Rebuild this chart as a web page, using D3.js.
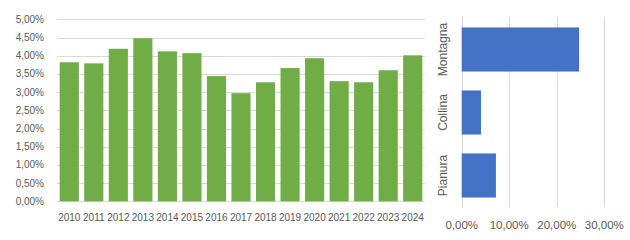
<!DOCTYPE html>
<html><head><meta charset="utf-8">
<script src="https://cdn.jsdelivr.net/npm/d3@7"></script>
<style>body{margin:0;background:#fff}svg{display:block}text{font-family:"Liberation Sans",Arial,sans-serif;fill:#595959}</style>
</head><body>
<svg id="c" width="630" height="240"></svg>
<script>
const years = ["2010","2011","2012","2013","2014","2015","2016","2017","2018","2019","2020","2021","2022","2023","2024"];
const rates = [3.82,3.79,4.19,4.48,4.12,4.07,3.44,2.97,3.27,3.66,3.93,3.30,3.27,3.60,4.01];
const yTicks = [0,0.5,1,1.5,2,2.5,3,3.5,4,4.5,5];
const zones = ["Montagna","Collina","Pianura"];
const zoneValues = [24.7,4.06,7.2];
const xTicks = [0,10,20,30];

const svg = d3.select("#c");
const fmt = v => d3.format(".2f")(v).replace(".", ",") + "%";

// Left chart
const x1 = d3.scaleBand().domain(years).range([57,425]).paddingInner(0.22).paddingOuter(0.11);
const y1 = d3.scaleLinear().domain([0,5]).range([201.3,19.3]);
const g1 = svg.append("g");
g1.selectAll("line.g").data(yTicks).join("line")
  .attr("x1",57).attr("x2",425).attr("y1",d=>Math.round(y1(d))+0.5).attr("y2",d=>Math.round(y1(d))+0.5)
  .attr("stroke","#d9d9d9").attr("stroke-width",1);
g1.selectAll("text.y").data(yTicks).join("text")
  .attr("x",44).attr("y",d=>y1(d)).attr("dy","0.35em").attr("text-anchor","end")
  .attr("font-size",10).text(fmt);
g1.selectAll("rect").data(rates).join("rect")
  .attr("x",(d,i)=>x1(years[i])).attr("width",x1.bandwidth())
  .attr("y",d=>y1(d)).attr("height",d=>y1(0)-y1(d)).attr("fill","#70AD47");
g1.selectAll("text.x").data(years).join("text")
  .attr("x",d=>x1(d)+x1.bandwidth()/2).attr("y",220.5).attr("text-anchor","middle")
  .attr("font-size",10).text(d=>d);

// Right chart
const x2 = d3.scaleLinear().domain([0,30]).range([461.7,604.3]);
const y2 = d3.scaleBand().domain(zones).range([18,207]).paddingInner(0.3).paddingOuter(0.15);
const g2 = svg.append("g");
g2.selectAll("line").data(xTicks).join("line")
  .attr("x1",d=>Math.round(x2(d))+0.5).attr("x2",d=>Math.round(x2(d))+0.5).attr("y1",17).attr("y2",207)
  .attr("stroke","#d9d9d9").attr("stroke-width",1);
g2.selectAll("rect").data(zoneValues).join("rect")
  .attr("x",x2(0)).attr("width",d=>x2(d)-x2(0))
  .attr("y",(d,i)=>y2(zones[i])).attr("height",y2.bandwidth()).attr("fill","#4472C4");
g2.selectAll("text.x").data(xTicks).join("text")
  .attr("x",d=>x2(d)).attr("y",229).attr("text-anchor","middle")
  .attr("font-size",11.5).text(fmt);
g2.selectAll("text.z").data(zones).join("text")
  .attr("transform",d=>`translate(447,${y2(d)+y2.bandwidth()/2}) rotate(-90)`)
  .attr("text-anchor","middle").attr("font-size",12).text(d=>d);
</script>
</body></html>
